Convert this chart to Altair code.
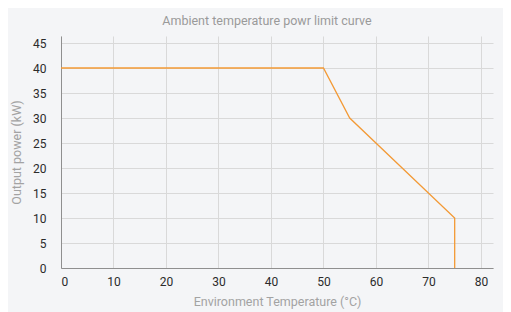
import altair as alt
import pandas as pd

temps = [0, 50, 55, 75, 75]
power = [40, 40, 30, 10, 0]
x_ticks = [0, 10, 20, 30, 40, 50, 60, 70, 80]
y_ticks = [0, 5, 10, 15, 20, 25, 30, 35, 40, 45]

df = pd.DataFrame({"temp": temps, "power": power, "order": list(range(len(temps)))})

FONT = "Roboto"

chart = alt.Chart(df).mark_line(color="#f39a36", strokeWidth=1.3).encode(
    x=alt.X("temp:Q",
            scale=alt.Scale(domain=[0, 82.3], nice=False, zero=True),
            axis=alt.Axis(values=x_ticks, title="Environment Temperature (°C)",
                          ticks=False, labelPadding=8, titlePadding=8,
                          domainColor="#8f8f8f", gridColor="#d9d9d9",
                          labelColor="#2b2b2b", titleColor="#a3a3a3",
                          labelFontSize=12, titleFontSize=12.5, titleFontWeight="normal",
                          labelFont=FONT, titleFont=FONT)),
    y=alt.Y("power:Q",
            scale=alt.Scale(domain=[0, 46.4], nice=False),
            axis=alt.Axis(values=y_ticks, title="Output power (kW)",
                          ticks=False, labelPadding=15, titlePadding=9,
                          domainColor="#8f8f8f", gridColor="#d9d9d9",
                          labelColor="#2b2b2b", titleColor="#a3a3a3",
                          labelFontSize=12, titleFontSize=12.5, titleFontWeight="normal",
                          labelFont=FONT, titleFont=FONT)),
    order="order:Q",
).properties(
    width=432,
    height=232,
    title=alt.TitleParams("Ambient temperature powr limit curve", color="#9a9a9a",
                          fontSize=12.5, fontWeight="normal", font=FONT,
                          anchor="middle", offset=9, dx=-10),
    background="#f4f5f7",
    padding={"left": 53, "top": 28, "right": 10, "bottom": 48},
    autosize=alt.AutoSizeParams(type="none"),
).configure_view(stroke=None)

chart.save("out.html", embed_options={"renderer": "svg", "actions": False})
